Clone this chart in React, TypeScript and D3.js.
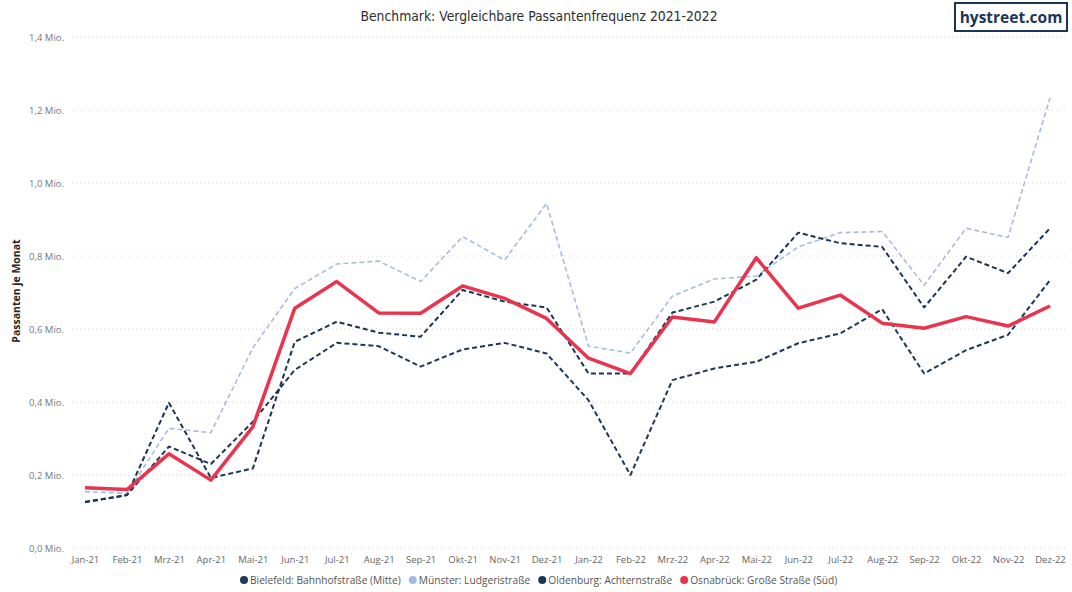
import { useEffect, useRef } from "react";
import * as d3 from "d3";

const months = [
  "Jan-21", "Feb-21", "Mrz-21", "Apr-21", "Mai-21", "Jun-21", "Jul-21", "Aug-21", "Sep-21", "Okt-21", "Nov-21", "Dez-21",
  "Jan-22", "Feb-22", "Mrz-22", "Apr-22", "Mai-22", "Jun-22", "Jul-22", "Aug-22", "Sep-22", "Okt-22", "Nov-22", "Dez-22",
];

// Werte in Mio. Passanten je Monat
const bielefeld = [0.127, 0.145, 0.278, 0.23, 0.346, 0.488, 0.562, 0.553, 0.497, 0.544, 0.562, 0.533,
  0.405, 0.2, 0.46, 0.492, 0.51, 0.561, 0.588, 0.654, 0.478, 0.542, 0.584, 0.734];
const muenster = [0.154, 0.15, 0.328, 0.316, 0.548, 0.711, 0.778, 0.786, 0.73, 0.853, 0.789, 0.944,
  0.553, 0.534, 0.69, 0.737, 0.745, 0.825, 0.864, 0.867, 0.72, 0.876, 0.851, 1.233];
const oldenburg = [0.125, 0.145, 0.398, 0.192, 0.218, 0.565, 0.62, 0.59, 0.579, 0.707, 0.675, 0.659,
  0.478, 0.478, 0.645, 0.675, 0.735, 0.864, 0.835, 0.825, 0.659, 0.798, 0.753, 0.876];
const osnabrueck = [0.165, 0.16, 0.258, 0.186, 0.332, 0.657, 0.73, 0.644, 0.643, 0.718, 0.684, 0.629,
  0.52, 0.478, 0.633, 0.619, 0.795, 0.657, 0.693, 0.616, 0.602, 0.634, 0.608, 0.663];

const yTicks = [0, 0.2, 0.4, 0.6, 0.8, 1.0, 1.2, 1.4];

const series = [
  { name: "Bielefeld: Bahnhofstraße (Mitte)", values: bielefeld, color: "#1d3859", width: 2, dash: "5,3" },
  { name: "Münster: Ludgeristraße", values: muenster, color: "#a7bbe0", width: 1.6, dash: "5,3" },
  { name: "Oldenburg: Achternstraße", values: oldenburg, color: "#1a3455", width: 2, dash: "5,3" },
  { name: "Osnabrück: Große Straße (Süd)", values: osnabrueck, color: "#e8344e", width: 3.5, dash: null },
];

export default function App() {
  const ref = useRef<SVGSVGElement>(null);

  useEffect(() => {
    const svg = d3.select(ref.current);
    svg.selectAll("*").remove();

    const font = "'Open Sans', 'Noto Sans', sans-serif";

    const x = d3.scalePoint().domain(months).range([85, 1050]);
    const y = d3.scaleLinear().domain([0, 1.4]).range([548, 37]);

    // grid lines
    svg.append("g")
      .selectAll("line")
      .data(yTicks)
      .join("line")
        .attr("x1", 72)
        .attr("x2", 1066)
        .attr("y1", d => y(d))
        .attr("y2", d => y(d))
        .attr("stroke", "#d4d4d4")
        .attr("stroke-width", 1)
        .attr("stroke-dasharray", "1,3");

    // y axis
    const yAxis = svg.append("g")
      .attr("transform", "translate(64,0)")
      .call(d3.axisLeft(y).tickValues(yTicks).tickSize(0).tickPadding(0)
        .tickFormat(d => d3.format(".1f")(d as number).replace(".", ",") + " Mio."));
    yAxis.select(".domain").remove();
    yAxis.selectAll("text")
      .attr("font-family", font)
      .attr("font-size", 9.5)
      .attr("fill", "#777");

    // x axis
    const xAxis = svg.append("g")
      .attr("transform", "translate(0,550)")
      .call(d3.axisBottom(x).tickSize(0).tickPadding(6));
    xAxis.select(".domain").remove();
    xAxis.selectAll("text")
      .attr("font-family", font)
      .attr("font-size", 9.5)
      .attr("fill", "#666");

    // lines
    const line = d3.line<number>()
      .x((_, i) => x(months[i]) as number)
      .y(d => y(d));

    svg.append("g")
      .selectAll("path")
      .data(series)
      .join("path")
        .attr("d", d => line(d.values))
        .attr("fill", "none")
        .attr("stroke", d => d.color)
        .attr("stroke-width", d => d.width)
        .attr("stroke-dasharray", d => d.dash)
        .attr("stroke-linejoin", "round");

    // y title
    svg.append("text")
      .attr("transform", "translate(20,291) rotate(-90)")
      .attr("text-anchor", "middle")
      .attr("font-family", font)
      .attr("font-size", 10.5)
      .attr("font-weight", "bold")
      .attr("fill", "#252525")
      .text("Passanten je Monat");

    // title
    svg.append("text")
      .attr("x", 539)
      .attr("y", 21)
      .attr("text-anchor", "middle")
      .attr("font-family", "'DejaVu Sans Condensed', 'Liberation Sans', sans-serif")
      .attr("font-size", 13.8)
      .attr("fill", "#2e2e2e")
      .text("Benchmark: Vergleichbare Passantenfrequenz 2021-2022");

    // logo
    svg.append("rect")
      .attr("x", 955)
      .attr("y", 3)
      .attr("width", 112)
      .attr("height", 28)
      .attr("fill", "#fff")
      .attr("stroke", "#1c3556")
      .attr("stroke-width", 2);
    svg.append("text")
      .attr("x", 1011)
      .attr("y", 23)
      .attr("text-anchor", "middle")
      .attr("font-family", "'Open Sans', sans-serif")
      .attr("font-size", 15.5)
      .attr("font-weight", "bold")
      .attr("fill", "#1c3556")
      .text("hystreet.com");

    // legend
    const legend = svg.append("g").attr("transform", "translate(0,580)");
    let lx = 240;
    series.forEach(s => {
      const g = legend.append("g").attr("transform", `translate(${lx},0)`);
      g.append("circle").attr("cx", 4).attr("cy", 0).attr("r", 4).attr("fill", s.color);
      const t = g.append("text")
        .attr("x", 10)
        .attr("y", 3.5)
        .attr("font-family", font)
        .attr("font-size", 10.2)
        .attr("fill", "#555")
        .text(s.name);
      const w = (t.node() as SVGTextElement).getComputedTextLength();
      lx += 10 + w + 8;
    });
  }, []);

  return <svg ref={ref} width={1072} height={592} style={{ position: "absolute", left: 0, top: 0, background: "#fff" }} />;
}
